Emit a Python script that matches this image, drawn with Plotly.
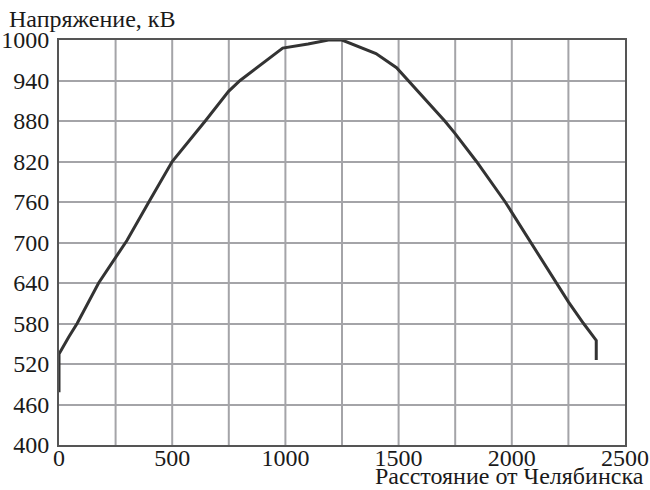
import plotly.graph_objects as go

distance = [0, 0, 43, 80, 175, 250, 300, 400, 500, 646, 749, 800, 918, 988, 1100, 1190, 1250,
            1300, 1400, 1491, 1542, 1620, 1704, 1748, 1844, 1971, 2083, 2196, 2250, 2317, 2373, 2373]
voltage = [478, 535, 560, 580, 640, 679, 703, 762, 820, 880, 924, 940, 970, 988, 994, 1000, 1000,
           993, 980, 959, 940, 912, 880, 862, 820, 760, 700, 640, 612, 580, 555, 526]

x_ticks = [0, 500, 1000, 1500, 2000, 2500]
y_ticks = [400, 460, 520, 580, 640, 700, 760, 820, 880, 940, 1000]
x_grid = [250, 500, 750, 1000, 1250, 1500, 1750, 2000, 2250]

y_title = "Напряжение, кВ"
x_title = "Расстояние от Челябинска"

font_family = "'Liberation Serif', 'DejaVu Serif', 'Times New Roman', serif"
fsize = 24

fig = go.Figure()
fig.add_trace(go.Scatter(x=distance, y=voltage, mode="lines",
                         line=dict(color="#333333", width=3), showlegend=False,
                         cliponaxis=False))

fig.update_layout(
    width=650, height=490,
    margin=dict(l=59, r=25, t=40, b=45),
    paper_bgcolor="white", plot_bgcolor="white",
    font=dict(family=font_family, size=fsize, color="#1a1a1a"),
    xaxis=dict(range=[0, 2500], tickvals=x_ticks, ticktext=[str(v) for v in x_ticks],
               showgrid=False, zeroline=False, showline=True, linecolor="#555555",
               linewidth=2, mirror=True, ticks="", ticklabelstandoff=-10,
               automargin=False, tickfont=dict(family=font_family, size=fsize)),
    yaxis=dict(range=[400, 1000], tickvals=y_ticks, ticktext=[str(v) for v in y_ticks],
               showgrid=True, gridcolor="#a4a4a8", gridwidth=2, zeroline=False,
               showline=True, linecolor="#555555", linewidth=2, mirror=True,
               ticks="", ticklabelstandoff=3, automargin=False,
               tickfont=dict(family=font_family, size=fsize)),
)

for xv in x_grid:
    fig.add_shape(type="line", x0=xv, x1=xv, y0=400, y1=1000, xref="x", yref="y",
                  line=dict(color="#a4a4a8", width=2), layer="below")

fig.add_annotation(text=y_title, xref="paper", yref="paper", x=-52/566, y=1.0,
                   xanchor="left", yanchor="bottom", yshift=6, showarrow=False,
                   font=dict(family=font_family, size=fsize, color="#1a1a1a"))
fig.add_annotation(text=x_title, xref="paper", yref="paper", x=1.0, y=0.0,
                   xanchor="right", yanchor="bottom", xshift=21, yshift=-46, showarrow=False,
                   font=dict(family=font_family, size=fsize, color="#1a1a1a"))

fig.write_html("out.html")
